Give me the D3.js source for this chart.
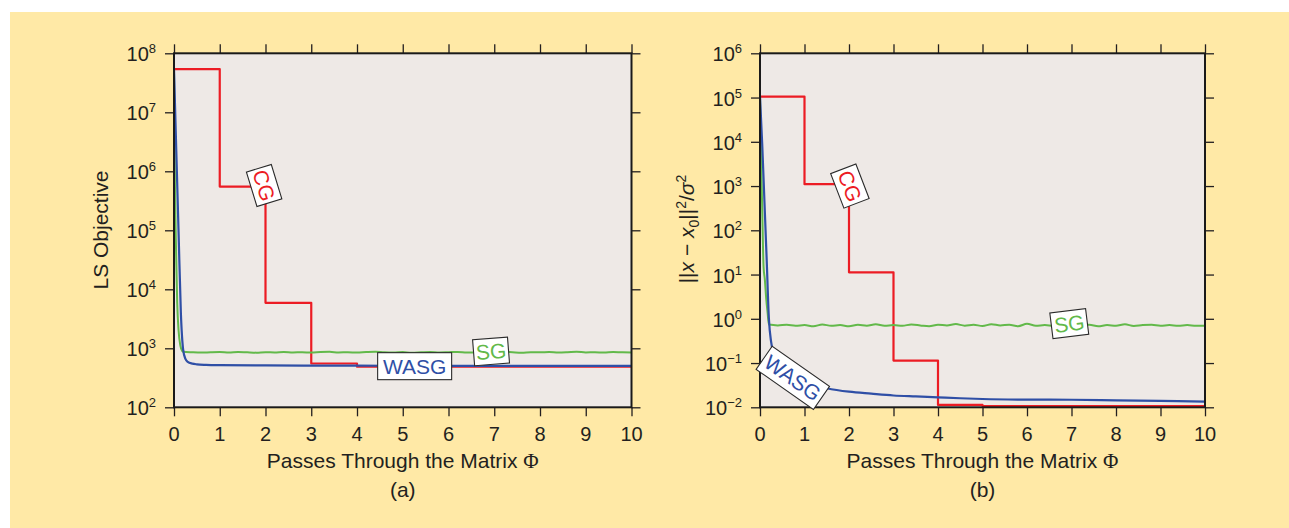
<!DOCTYPE html>
<html>
<head>
<meta charset="utf-8">
<script src="https://cdn.jsdelivr.net/npm/d3@7"></script>
<style>
  html, body { margin: 0; padding: 0; background: #ffffff; }
  svg { display: block; }
  text { font-family: "Liberation Sans", Arial, Helvetica, sans-serif; fill: #231f20; }
</style>
</head>
<body>
<svg id="fig" width="1289" height="528"></svg>
<script>
// ---------- data ----------
const passTicks = [0, 1, 2, 3, 4, 5, 6, 7, 8, 9, 10];
const objectiveDecades = [2, 3, 4, 5, 6, 7, 8];
const errorDecades = [-2, -1, 0, 1, 2, 3, 4, 5, 6];

// Conjugate gradient: one value per full pass (drawn as steps)
const cgPasses = [0, 1, 2, 3, 4, 5, 10];
const cgObjective = [5.4e7, 5.5e5, 5.9e3, 553, 488, 488, 488];
const cgError = [1.05e5, 1.1e3, 11.2, 0.114, 0.0113, 0.0107, 0.0107];

// Weighted-average stochastic gradient
const wasgObjPasses = [0, 0.05, 0.1, 0.15, 0.2, 0.25, 0.3, 0.4, 0.5, 0.7, 1, 2, 3, 4, 5, 6, 7, 8, 9, 10];
const wasgObjective = [5.4e7, 2.2e6, 9.3e4, 4.0e3, 950, 660, 590, 550, 535, 524, 518, 512, 509, 507, 506, 505, 505, 505, 505, 505];
const wasgErrPasses = [0, 0.05, 0.1, 0.15, 0.2, 0.25, 0.3, 0.4, 0.5, 0.75, 1, 1.25, 1.5, 2, 2.5, 3, 3.5, 4, 4.5, 5, 6, 7, 8, 9, 10];
const wasgError = [1.05e5, 8.7e3, 440, 22, 1.0, 0.3, 0.17, 0.11, 0.08, 0.05, 0.037, 0.031, 0.027, 0.0225, 0.0203, 0.0185, 0.0176, 0.0168, 0.016, 0.0154, 0.0149, 0.0148, 0.0144, 0.0139, 0.0135];

// Plain stochastic gradient: fast initial drop, then a noisy plateau
const sgObjHeadPasses = [0, 0.02, 0.04, 0.07, 0.1, 0.14, 0.18];
const sgObjHead = [5.4e7, 6.3e5, 7.0e4, 5.9e3, 2.0e3, 1.1e3, 900];
const sgObjTail = [872, 855, 846, 856, 862, 850, 866, 854, 844, 860, 852, 868, 850, 858, 846, 862, 870, 852, 858, 846,
                   862, 872, 854, 848, 862, 844, 856, 866, 852, 860, 868, 846, 854, 864, 850, 870, 856, 844, 860, 854,
                   866, 850, 858, 872, 852, 856, 846, 862, 854, 852];
const sgErrHeadPasses = [0, 0.02, 0.05, 0.08, 0.11, 0.14, 0.17];
const sgErrHead = [1.05e5, 8.0e3, 300, 15, 7.5, 2.8, 1.4];
const sgErrTail = [0.74, 0.71, 0.73, 0.70, 0.72, 0.68, 0.74, 0.70, 0.72, 0.68, 0.73, 0.70, 0.75, 0.70, 0.72, 0.70, 0.74, 0.71, 0.68, 0.73,
                   0.71, 0.76, 0.70, 0.73, 0.69, 0.75, 0.71, 0.73, 0.68, 0.77, 0.70, 0.72, 0.70, 0.74, 0.69, 0.72, 0.73, 0.68, 0.72, 0.70,
                   0.75, 0.69, 0.72, 0.73, 0.70, 0.72, 0.70, 0.72, 0.70, 0.70];

// ---------- styling ----------
const RED = "#ec1c24", BLUE = "#2f4fa6", GREEN = "#62b94a";
const PAGE_BG = "#ffe9a6", PLOT_BG = "#eee9e6";

const svg = d3.select("#fig");
svg.append("rect").attr("x", 10).attr("y", 12).attr("width", 1279).attr("height", 516).attr("fill", PAGE_BG);

const plotTop = 53.3, plotBottom = 407.3;

function toPoints(xs, ys) { return xs.map((x, i) => [x, ys[i]]); }
function plateau(headX, headY, tail) {
  const pts = toPoints(headX, headY);
  tail.forEach((v, i) => pts.push([0.2 * (i + 1), v]));
  return pts;
}

function supLabel(sel, exp) {
  sel.append("tspan").text("10");
  sel.append("tspan").attr("dy", -8).attr("font-size", 13)
     .text(exp < 0 ? "\u2212" + Math.abs(exp) : String(exp));
}

function drawPanel(p) {
  const x = d3.scaleLinear().domain([0, 10]).range([p.left, p.right]);
  const y = d3.scaleLog().domain([Math.pow(10, p.decades[0]), Math.pow(10, p.decades[p.decades.length - 1])]).range([plotBottom, plotTop]);
  const yTicks = p.decades.map(d => Math.pow(10, d));
  const g = svg.append("g");

  g.append("rect").attr("x", p.left).attr("y", plotTop)
    .attr("width", p.right - p.left).attr("height", plotBottom - plotTop).attr("fill", PLOT_BG);

  // outward tick marks on all four sides
  const tickStyle = s => {
    s.select(".domain").remove();
    s.selectAll(".tick line").attr("stroke", "#231f20").attr("stroke-width", 1.3);
    s.selectAll(".tick text").remove();
  };
  g.append("g").attr("transform", `translate(0,${plotBottom})`)
    .call(d3.axisBottom(x).tickValues(passTicks).tickSize(9).tickFormat("")).call(tickStyle);
  g.append("g").attr("transform", `translate(0,${plotTop})`)
    .call(d3.axisTop(x).tickValues(passTicks).tickSize(9).tickFormat("")).call(tickStyle);
  g.append("g").attr("transform", `translate(${p.left},0)`)
    .call(d3.axisLeft(y).tickValues(yTicks).tickSize(9).tickFormat("")).call(tickStyle);
  g.append("g").attr("transform", `translate(${p.right},0)`)
    .call(d3.axisRight(y).tickValues(yTicks).tickSize(9).tickFormat("")).call(tickStyle);

  // curves
  const clipId = "clip" + p.name;
  svg.append("clipPath").attr("id", clipId).append("rect")
    .attr("x", p.left).attr("y", plotTop - 1).attr("width", p.right - p.left).attr("height", plotBottom - plotTop + 2);
  const lineGen = curve => d3.line().x(d => x(d[0])).y(d => y(d[1])).curve(curve);
  const lines = g.append("g").attr("clip-path", `url(#${clipId})`).attr("fill", "none")
    .attr("stroke-linejoin", "round");
  lines.append("path").attr("d", lineGen(d3.curveStepAfter)(p.cg)).attr("stroke", RED).attr("stroke-width", 2.2);
  lines.append("path").attr("d", lineGen(d3.curveMonotoneX)(p.sg)).attr("stroke", GREEN).attr("stroke-width", 2);
  lines.append("path").attr("d", lineGen(d3.curveMonotoneX)(p.wasg)).attr("stroke", BLUE).attr("stroke-width", 2.2);

  // frame
  g.append("rect").attr("x", p.left).attr("y", plotTop)
    .attr("width", p.right - p.left).attr("height", plotBottom - plotTop)
    .attr("fill", "none").attr("stroke", "#1a1a1a").attr("stroke-width", 2);

  // tick labels
  g.selectAll(".xl").data(passTicks).join("text")
    .attr("x", d => x(d)).attr("y", plotBottom + 34).attr("text-anchor", "middle")
    .attr("font-size", 20).text(d => d);
  g.selectAll(".yl").data(p.decades).join("text")
    .attr("x", p.left - 18).attr("y", d => y(Math.pow(10, d)) + 8)
    .attr("text-anchor", "end").attr("font-size", 20)
    .each(function (d) { supLabel(d3.select(this), d); });

  // axis titles and caption
  const cx = (p.left + p.right) / 2;
  const xt = g.append("text").attr("x", cx).attr("y", 468).attr("text-anchor", "middle").attr("font-size", 21);
  xt.append("tspan").text("Passes Through the Matrix ");
  xt.append("tspan").attr("font-family", "'Liberation Serif', 'Times New Roman', serif").text("\u03a6");
  g.append("text").attr("x", cx).attr("y", 497).attr("text-anchor", "middle").attr("font-size", 21).text(p.caption);
  p.yTitle(g);

  // in-plot series labels
  p.labels.forEach(l => {
    const lg = g.append("g")
      .attr("transform", `translate(${x(l.at[0])},${y(l.at[1])}) rotate(${l.angle})`);
    lg.append("rect").attr("x", -l.w / 2).attr("y", -l.h / 2).attr("width", l.w).attr("height", l.h)
      .attr("fill", "#ffffff").attr("stroke", "#2a2a2a").attr("stroke-width", 1.1);
    lg.append("text").attr("text-anchor", "middle").attr("y", 7.5).attr("font-size", 21)
      .style("fill", l.color).text(l.text);
  });
}

drawPanel({
  name: "a", left: 174, right: 631.5, decades: objectiveDecades, caption: "(a)",
  cg: toPoints(cgPasses, cgObjective),
  wasg: toPoints(wasgObjPasses, wasgObjective),
  sg: plateau(sgObjHeadPasses, sgObjHead, sgObjTail),
  yTitle: g => g.append("text").attr("transform", "translate(108,230) rotate(-90)")
    .attr("text-anchor", "middle").attr("font-size", 21).text("LS Objective"),
  labels: [
    { text: "CG", color: RED, at: [1.97, Math.pow(10, 5.76)], angle: 73, w: 36, h: 26 },
    { text: "SG", color: GREEN, at: [6.93, Math.pow(10, 2.947)], angle: -4.5, w: 35, h: 26 },
    { text: "WASG", color: BLUE, at: [5.26, Math.pow(10, 2.697)], angle: 0, w: 74, h: 27 }
  ]
});

drawPanel({
  name: "b", left: 760, right: 1205, decades: errorDecades, caption: "(b)",
  cg: toPoints(cgPasses, cgError),
  wasg: toPoints(wasgErrPasses, wasgError),
  sg: plateau(sgErrHeadPasses, sgErrHead, sgErrTail),
  yTitle: g => {
    const t = g.append("text").attr("transform", "translate(694,229) rotate(-90)")
      .attr("text-anchor", "middle").attr("font-size", 21);
    t.append("tspan").text("||");
    t.append("tspan").attr("font-style", "italic").text("x");
    t.append("tspan").text(" \u2212 ");
    t.append("tspan").attr("font-style", "italic").text("x");
    t.append("tspan").attr("font-size", 14).attr("dy", 5).text("0");
    t.append("tspan").attr("dy", -5).text("||");
    t.append("tspan").attr("font-size", 14).attr("dy", -8).text("2");
    t.append("tspan").attr("dy", 8).text("/");
    t.append("tspan").attr("font-style", "italic").text("\u03c3");
    t.append("tspan").attr("font-size", 14).attr("dy", -8).text("2");
  },
  labels: [
    { text: "CG", color: RED, at: [2.02, Math.pow(10, 3.0)], angle: 69, w: 37, h: 27 },
    { text: "SG", color: GREEN, at: [6.95, Math.pow(10, -0.109)], angle: -7, w: 36, h: 26 },
    { text: "WASG", color: BLUE, at: [0.737, Math.pow(10, -1.335)], angle: 35, w: 70, h: 28 }
  ]
});
</script>
</body>
</html>
